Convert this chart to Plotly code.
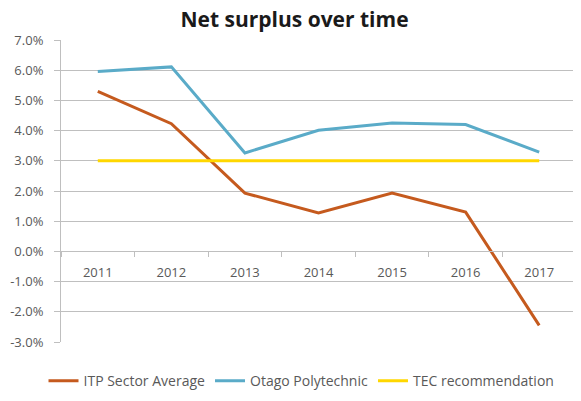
import plotly.graph_objects as go

years = ["2011", "2012", "2013", "2014", "2015", "2016", "2017"]
itp_avg = [5.30, 4.23, 1.93, 1.27, 1.93, 1.30, -2.45]
otago = [5.96, 6.11, 3.26, 4.01, 4.25, 4.20, 3.29]
tec = [3.0, 3.0, 3.0, 3.0, 3.0, 3.0, 3.0]

y_ticks = [-3, -2, -1, 0, 1, 2, 3, 4, 5, 6, 7]
y_labels = ["-3.0%", "-2.0%", "-1.0%", "0.0%", "1.0%", "2.0%", "3.0%", "4.0%", "5.0%", "6.0%", "7.0%"]

font_family = "Open Sans, Noto Sans, DejaVu Sans, sans-serif"
text_col = "#595959"
grid_col = "#BFBFBF"

fig = go.Figure()
fig.add_trace(go.Scatter(x=years, y=itp_avg, mode="lines", name="ITP Sector Average",
                         line=dict(color="#C55A1E", width=3)))
fig.add_trace(go.Scatter(x=years, y=otago, mode="lines", name="Otago Polytechnic",
                         line=dict(color="#5AABC8", width=3)))
fig.add_trace(go.Scatter(x=years, y=tec, mode="lines", name="TEC recommendation",
                         line=dict(color="#FFD700", width=3)))

# page has an 8px body margin, so the figure is sized 8px smaller
fig.update_layout(
    width=573, height=393,
    margin=dict(l=53, r=5, t=32, b=59, autoexpand=False),
    paper_bgcolor="white", plot_bgcolor="white",
    font=dict(family=font_family, color=text_col, size=13),
    title=dict(text="<b>Net surplus over time</b>", x=0.5, xanchor="center",
               y=0.99, yanchor="top", pad=dict(t=0, b=0),
               font=dict(size=21, color="#1a1a1a", family=font_family)),
    showlegend=True,
    legend=dict(orientation="h", x=0.467, xanchor="center", y=-0.13, yanchor="middle",
                font=dict(size=14, color=text_col), itemwidth=30,
                tracegroupgap=0),
    xaxis=dict(type="category", anchor="free", position=0.3,
               showline=True, linecolor=grid_col, linewidth=1,
               ticks="outside", tickson="boundaries", ticklen=5, tickcolor=grid_col,
               ticklabelstandoff=9,
               showgrid=False, zeroline=False,
               tickfont=dict(size=13, color=text_col),
               range=[-0.5, 6.5]),
    yaxis=dict(range=[-3, 7], tickvals=y_ticks, ticktext=y_labels,
               showgrid=True, gridcolor=grid_col, gridwidth=1,
               zeroline=False, showline=True, linecolor=grid_col, linewidth=1,
               ticks="outside", ticklen=6, tickcolor=grid_col,
               ticklabelstandoff=8,
               tickfont=dict(size=13, color=text_col)),
)

fig.write_html("out.html")
